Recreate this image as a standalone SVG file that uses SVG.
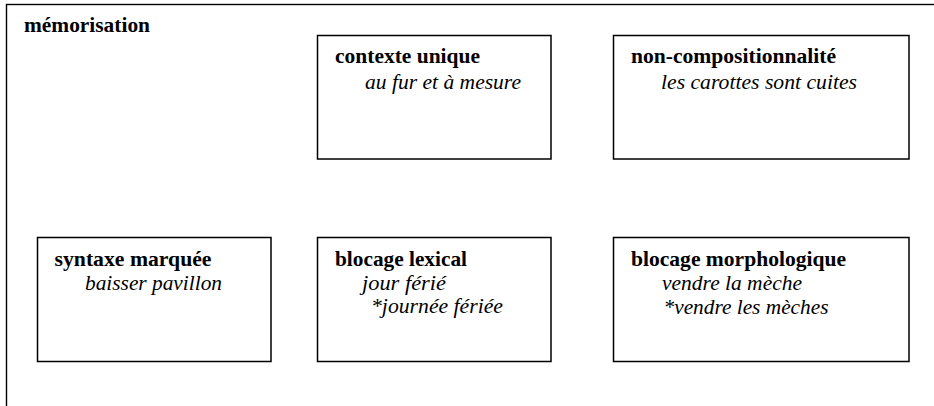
<svg xmlns="http://www.w3.org/2000/svg" width="934" height="406" viewBox="0 0 934 406">
<style>
.frame{fill:none;stroke:#000;stroke-width:1.4}
.box{fill:#fff;stroke:#000;stroke-width:1.5}
.t{font-family:"Liberation Serif","Times New Roman",serif;font-size:21.5px;fill:#000}
.b{font-weight:bold}
.i{font-style:italic}
</style>
<rect width="934" height="406" fill="#fff"/>
<g id="frame">
<rect class="frame" x="6.5" y="4.5" width="1000" height="500"/>
<text class="t b" x="24" y="31.5" textLength="126" lengthAdjust="spacingAndGlyphs">mémorisation</text>
</g>
<g id="contexte-unique">
<rect class="box" x="317.5" y="35.5" width="233.5" height="123.5"/>
<text class="t b" x="335" y="63" textLength="145" lengthAdjust="spacingAndGlyphs">contexte unique</text>
<text class="t i" x="365" y="88.5" textLength="156" lengthAdjust="spacingAndGlyphs">au fur et à mesure</text>
</g>
<g id="non-compositionnalite">
<rect class="box" x="613.5" y="35.5" width="295.5" height="123.5"/>
<text class="t b" x="631" y="63" textLength="205" lengthAdjust="spacingAndGlyphs">non-compositionnalité</text>
<text class="t i" x="661" y="88.5" textLength="196" lengthAdjust="spacingAndGlyphs">les carottes sont cuites</text>
</g>
<g id="syntaxe-marquee">
<rect class="box" x="37.5" y="237.5" width="233.5" height="124"/>
<text class="t b" x="54.5" y="265.5" textLength="157" lengthAdjust="spacingAndGlyphs">syntaxe marquée</text>
<text class="t i" x="85" y="290" textLength="137" lengthAdjust="spacingAndGlyphs">baisser pavillon</text>
</g>
<g id="blocage-lexical">
<rect class="box" x="317.5" y="237.5" width="233.5" height="124"/>
<text class="t b" x="335" y="265.5" textLength="132" lengthAdjust="spacingAndGlyphs">blocage lexical</text>
<text class="t i" x="362" y="289.5" textLength="84" lengthAdjust="spacingAndGlyphs">jour férié</text>
<text class="t i" x="371" y="313" textLength="132" lengthAdjust="spacingAndGlyphs">*journée fériée</text>
</g>
<g id="blocage-morphologique">
<rect class="box" x="613.5" y="237.5" width="295.5" height="124"/>
<text class="t b" x="631" y="265.5" textLength="215" lengthAdjust="spacingAndGlyphs">blocage morphologique</text>
<text class="t i" x="662" y="290" textLength="140" lengthAdjust="spacingAndGlyphs">vendre la mèche</text>
<text class="t i" x="663.5" y="313.5" textLength="165" lengthAdjust="spacingAndGlyphs">*vendre les mèches</text>
</g>
</svg>
